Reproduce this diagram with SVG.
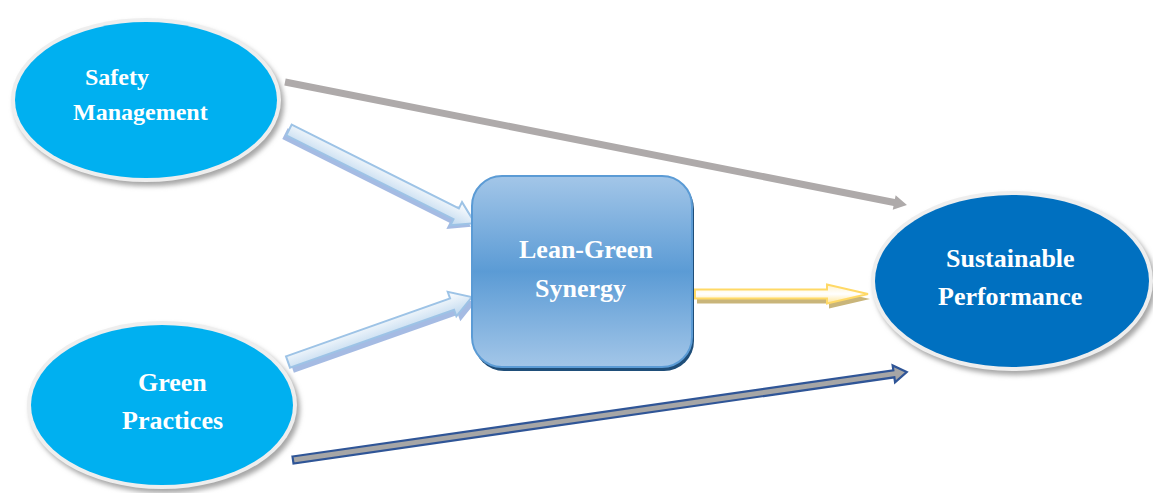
<svg xmlns="http://www.w3.org/2000/svg" width="1153" height="493" viewBox="0 0 1153 493">
  <style>
    .lbl { font-family: "Liberation Serif", "Times New Roman", serif; font-weight: bold; fill: #ffffff; }
  </style>
  <defs>
    <filter id="shadow" x="-10%" y="-10%" width="130%" height="130%">
      <feGaussianBlur stdDeviation="2.5"/>
    </filter>
    <filter id="glow" x="-5%" y="-50%" width="110%" height="200%">
      <feGaussianBlur stdDeviation="3"/>
    </filter>
    <linearGradient id="boxFill" x1="0" y1="0" x2="0" y2="1">
      <stop offset="0" stop-color="#a3c6e8"/>
      <stop offset="0.5" stop-color="#5b9bd5"/>
      <stop offset="1" stop-color="#a3c6e8"/>
    </linearGradient>
    <linearGradient id="blueArrowFill" x1="0" y1="0" x2="0" y2="1">
      <stop offset="0" stop-color="#ffffff"/>
      <stop offset="1" stop-color="#bdd7ee"/>
    </linearGradient>
    <linearGradient id="yellowArrowFill" x1="0" y1="0" x2="0" y2="1">
      <stop offset="0" stop-color="#fff2cc"/>
      <stop offset="0.5" stop-color="#ffffff"/>
      <stop offset="1" stop-color="#ffe699"/>
    </linearGradient>
  </defs>

  <!-- connectors -->
  <g id="connectors">
    <!-- Safety Management -> Sustainable Performance -->
    <g transform="translate(285,82) rotate(11.19)">
      <polygon points="0,-4 634,-4" stroke="#bdd7ee" stroke-width="6" opacity="0.5" filter="url(#glow)"/>
      <polygon points="0,-3.5 621,-3.5 621,-7.5 634,0 621,7.5 621,3.5 0,3.5" fill="#aeaaaa"/>
    </g>
    <!-- Green Practices -> Sustainable Performance -->
    <g transform="translate(293,460) rotate(-8.16)">
      <polygon points="0,-5 620,-5" stroke="#bdd7ee" stroke-width="8" opacity="0.5" filter="url(#glow)"/>
      <polygon points="0,-3.5 607,-3.5 607,-8.5 620,0 607,8.5 607,3.5 0,3.5" fill="#a6a6a6" stroke="#2f5597" stroke-width="2.2"/>
    </g>
    <!-- Safety Management -> Lean-Green Synergy -->
    <g transform="translate(289,130) rotate(26.6)">
      <polygon points="0,-6 187,-6 187,-13 208,0 187,13 187,6 0,6" fill="#8faadc" opacity="0.8" transform="translate(-2,5)"/>
      <polygon points="0,-6 187,-6 187,-13 208,0 187,13 187,6 0,6" fill="url(#blueArrowFill)" stroke="#9dc3e6" stroke-width="2"/>
    </g>
    <!-- Green Practices -> Lean-Green Synergy -->
    <g transform="translate(288,362) rotate(-19.46)">
      <polygon points="0,-6 174,-6 174,-13 195,0 174,13 174,6 0,6" fill="#8faadc" opacity="0.8" transform="translate(2,6)"/>
      <polygon points="0,-6 174,-6 174,-13 195,0 174,13 174,6 0,6" fill="url(#blueArrowFill)" stroke="#9dc3e6" stroke-width="2"/>
    </g>
    <!-- Lean-Green Synergy -> Sustainable Performance -->
    <g transform="translate(695,294)">
      <polygon points="0,-4.5 132,-4.5 132,-9.5 173,0 132,9.5 132,4.5 0,4.5" fill="#c9b57a" transform="translate(2,5)"/>
      <polygon points="0,-4.5 132,-4.5 132,-9.5 173,0 132,9.5 132,4.5 0,4.5" fill="url(#yellowArrowFill)" stroke="#ffd966" stroke-width="2"/>
    </g>
  </g>

  <!-- Safety Management -->
  <g id="safety-management">
    <ellipse cx="149" cy="104" rx="135" ry="82" fill="#a6a6a6" filter="url(#shadow)"/>
    <ellipse cx="146" cy="100" rx="135" ry="82" fill="#eeeeee"/>
    <ellipse cx="146" cy="100" rx="131" ry="78" fill="#00b0f0"/>
    <text class="lbl" x="85" y="85" font-size="24">Safety</text>
    <text class="lbl" x="73" y="120" font-size="24">Management</text>
  </g>

  <!-- Green Practices -->
  <g id="green-practices">
    <ellipse cx="165" cy="409" rx="135" ry="84" fill="#a6a6a6" filter="url(#shadow)"/>
    <ellipse cx="162" cy="405" rx="135" ry="84" fill="#eeeeee"/>
    <ellipse cx="162" cy="405" rx="131" ry="80" fill="#00b0f0"/>
    <text class="lbl" x="138" y="391" font-size="26">Green</text>
    <text class="lbl" x="122" y="429" font-size="26">Practices</text>
  </g>

  <!-- Lean-Green Synergy -->
  <g id="lean-green-synergy">
    <rect x="474" y="179" width="220" height="192" rx="30" fill="#1f4e79"/>
    <rect x="472" y="176" width="220" height="191" rx="30" fill="url(#boxFill)" stroke="#5b9bd5" stroke-width="2"/>
    <text class="lbl" x="519" y="258" font-size="26">Lean-Green</text>
    <text class="lbl" x="535" y="297" font-size="26">Synergy</text>
  </g>

  <!-- Sustainable Performance -->
  <g id="sustainable-performance">
    <ellipse cx="1015" cy="285" rx="141" ry="90" fill="#a6a6a6" filter="url(#shadow)"/>
    <ellipse cx="1012" cy="281" rx="141" ry="90" fill="#eeeeee"/>
    <ellipse cx="1012" cy="281" rx="137" ry="86" fill="#0070c0"/>
    <text class="lbl" x="946" y="267" font-size="26">Sustainable</text>
    <text class="lbl" x="938" y="305" font-size="26">Performance</text>
  </g>
</svg>
